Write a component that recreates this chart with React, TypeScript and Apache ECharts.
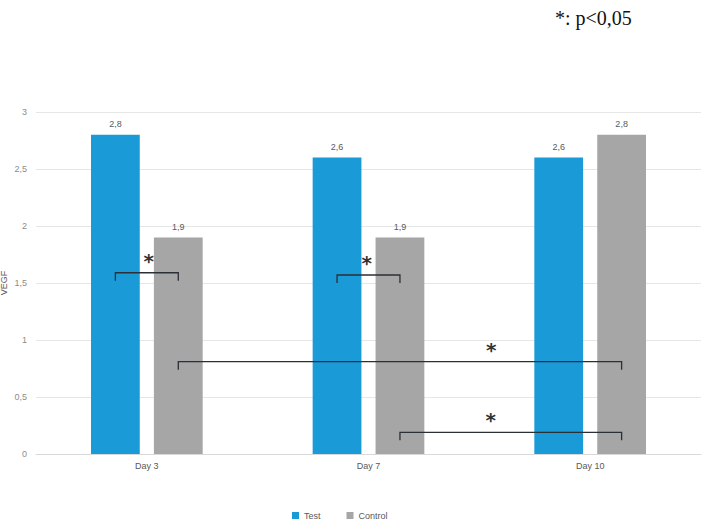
import React, { useEffect, useRef } from "react";
import * as echarts from "echarts";

const categories = ["Day 3", "Day 7", "Day 10"];
const testValues = [2.8, 2.6, 2.6];
const controlValues = [1.9, 1.9, 2.8];
const yTicks = [0, 0.5, 1, 1.5, 2, 2.5, 3];

// significance brackets: [fromCategory, fromSeries(0=Test,1=Control), toCategory, toSeries, yValue, starPosFraction]
const brackets: [number, number, number, number, number, number][] = [
  [0, 0, 0, 1, 1.59, 0.53],
  [1, 0, 1, 1, 1.57, 0.47],
  [0, 1, 2, 1, 0.81, 0.706],
  [1, 1, 2, 1, 0.19, 0.41],
];

const fmt = (v: number) => String(v).replace(".", ",");

export default function App() {
  const ref = useRef<HTMLDivElement>(null);
  useEffect(() => {
    const chart = echarts.init(ref.current!, null, { renderer: "svg" });
    const font = "Liberation Sans";
    const barWidthFrac = 0.22;
    const gapFrac = 0.29;
    chart.setOption({
      animation: false,
      grid: { left: 36, right: 3, top: 112, bottom: 72, containLabel: false, outerBoundsMode: "none" },
      legend: {
        data: ["Test", "Control"],
        left: 287,
        top: 506,
        itemWidth: 7,
        itemHeight: 7,
        itemGap: 26,
        icon: "rect",
        textStyle: { fontFamily: font, fontSize: 9, color: "#595959" },
      },
      xAxis: {
        type: "category",
        data: categories,
        axisTick: { show: false },
        axisLine: { lineStyle: { color: "#d9d9d9" } },
        axisLabel: { fontFamily: font, fontSize: 9, color: "#595959", margin: 7 },
      },
      yAxis: {
        type: "value",
        min: 0,
        max: 3,
        interval: 0.5,
        name: "VEGF",
        nameLocation: "middle",
        nameGap: 28,
        nameMoveOverlap: false,
        nameTextStyle: { fontFamily: font, fontSize: 9, color: "#595959" },
        axisLabel: {
          fontFamily: font,
          fontSize: 9,
          color: "#8c8c8c",
          margin: 9,
          formatter: (v: number) => (yTicks.includes(v) ? fmt(v) : ""),
        },
        splitLine: { lineStyle: { color: "#e6e6e6" } },
      },
      series: [
        {
          name: "Test",
          type: "bar",
          data: testValues,
          barWidth: barWidthFrac * 100 + "%",
          barGap: gapFrac * 100 + "%",
          itemStyle: { color: "#1a9ad7" },
          label: {
            show: true,
            position: "top",
            distance: 6,
            fontFamily: font,
            fontSize: 9,
            color: "#595959",
            formatter: (p: any) => fmt(p.value),
          },
        },
        {
          name: "Control",
          type: "bar",
          data: controlValues,
          barWidth: barWidthFrac * 100 + "%",
          barGap: gapFrac * 100 + "%",
          itemStyle: { color: "#a6a6a6" },
          label: {
            show: true,
            position: "top",
            distance: 6,
            fontFamily: font,
            fontSize: 9,
            color: "#595959",
            formatter: (p: any) => fmt(p.value),
          },
        },
      ],
    });

    const c0 = chart.convertToPixel({ xAxisIndex: 0 }, categories[0]) as number;
    const c1 = chart.convertToPixel({ xAxisIndex: 0 }, categories[1]) as number;
    const band = c1 - c0;
    const total = barWidthFrac * 2 + barWidthFrac * gapFrac;
    const off = (s: number) =>
      -total / 2 * band + barWidthFrac * band / 2 + s * (barWidthFrac + barWidthFrac * gapFrac) * band;
    const px = (cat: number, s: number) =>
      (chart.convertToPixel({ xAxisIndex: 0 }, categories[cat]) as number) + off(s);

    const graphics: any[] = [];
    brackets.forEach(([ca, sa, cb, sb, yv, sf]) => {
      const x1 = px(ca, sa);
      const x2 = px(cb, sb);
      const y = chart.convertToPixel({ yAxisIndex: 0 }, yv) as number;
      graphics.push({
        type: "polyline",
        shape: { points: [[x1, y + 8], [x1, y], [x2, y], [x2, y + 8]] },
        style: { stroke: "#2b2f36", lineWidth: 1.3, fill: null },
        z: 100,
      });
      graphics.push({
        type: "text",
        x: x1 + (x2 - x1) * sf,
        y: y - 2,
        style: {
          text: "*",
          fontFamily: "DejaVu Sans",
          fontSize: 20,
          fontWeight: "bold",
          fill: "#333",
          align: "center",
          verticalAlign: "bottom",
        },
        z: 100,
      });
    });
    graphics.push({
      type: "text",
      left: 555,
      top: 8,
      style: {
        text: "*: p<0,05",
        fontFamily: "Liberation Serif",
        fontSize: 20,
        fill: "#111",
      },
    });
    chart.setOption({ graphic: graphics });
    return () => chart.dispose();
  }, []);
  return (
    <div
      ref={ref}
      style={{ position: "fixed", left: 0, top: 0, width: 704, height: 526, background: "#fff" }}
    />
  );
}
